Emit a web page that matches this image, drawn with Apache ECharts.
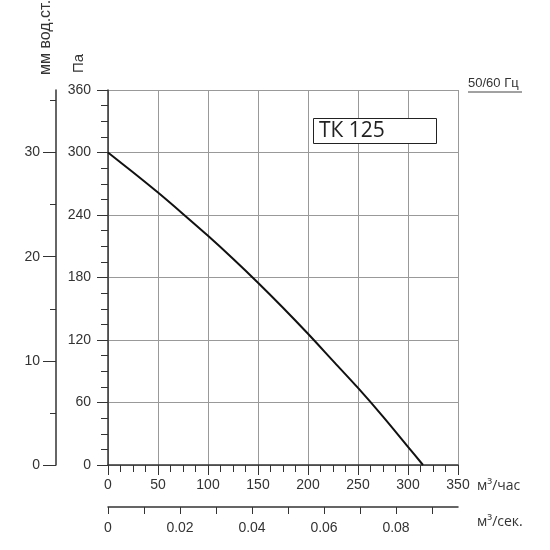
<!DOCTYPE html>
<html>
<head>
<meta charset="utf-8">
<script src="https://cdn.jsdelivr.net/npm/echarts@6/dist/echarts.min.js"></script>
<style>
    html, body { margin: 0; padding: 0; background: #fff; }
    #fanChart { width: 550px; height: 550px; }
</style>
</head>
<body>
<div id="fanChart"></div>
<script>
    // расход, м3/час
    var flow = [0, 25, 50, 75, 100, 125, 150, 175, 200, 225, 250, 275, 300, 315];
    // давление, Па
    var pressure = [300, 281, 261.5, 241, 220, 198, 175, 151, 126, 100, 74, 46.5, 17.5, 0];
    var mmTicks = [0, 10, 20, 30];
    var secTicks = [0, 0.01, 0.02, 0.03, 0.04, 0.05, 0.06, 0.07, 0.08, 0.09];
    var secLabels = [0, 0.02, 0.04, 0.06, 0.08];

    var labelFont = 'Liberation Sans';
    var axisColor = '#333';
    var gridColor = '#999';

    var chart = echarts.init(document.getElementById('fanChart'));
    var option = {
        backgroundColor: '#fff',
        animation: false,
        title: [{
            text: 'ТК 125',
            left: 313,
            top: 118,
            backgroundColor: '#fff',
            borderColor: '#222',
            borderWidth: 1,
            padding: [3, 52, 2, 6],
            textStyle: {fontFamily: 'Open Sans', fontSize: 21, fontWeight: 'normal', color: '#222'}
        }, {
            text: '50/60 Гц',
            left: 468,
            top: 77,
            padding: 0,
            textStyle: {fontFamily: labelFont, fontSize: 13, fontWeight: 'normal', color: '#333'}
        }],
        graphic: [{
            type: 'line',
            shape: {x1: 468, y1: 92, x2: 522, y2: 92},
            style: {stroke: '#444', lineWidth: 1}
        }, {
            // подписи осей
            type: 'text',
            x: 79, y: 73,
            rotation: Math.PI / 2,
            style: {text: 'Па', font: '15px "Liberation Sans"', fill: '#333', align: 'left', verticalAlign: 'middle'}
        }, {
            type: 'text',
            x: 46, y: 75,
            rotation: Math.PI / 2,
            style: {text: 'мм вод.ст.', font: '16px "Liberation Sans"', fill: '#333', align: 'left', verticalAlign: 'middle'}
        }, {
            type: 'text',
            x: 477, y: 486,
            style: {text: 'м³/час', font: '14px "Open Sans"', fill: '#333', align: 'left', verticalAlign: 'middle'}
        }, {
            type: 'text',
            x: 477, y: 522,
            style: {text: 'м³/сек.', font: '14px "Open Sans"', fill: '#333', align: 'left', verticalAlign: 'middle'}
        }],
        grid: {
            left: 108,
            right: 92,
            top: 90,
            bottom: 85,
            containLabel: false,
            outerBoundsMode: 'none'
        },
        xAxis: [{
            type: 'value',
            min: 0,
            max: 350,
            interval: 50,
            axisLine: {show: true, onZero: false, lineStyle: {color: axisColor, width: 1.5}},
            axisTick: {show: true, length: 10, lineStyle: {color: axisColor}},
            minorTick: {show: true, splitNumber: 4, length: 7, lineStyle: {color: axisColor}},
            axisLabel: {margin: 13, fontFamily: labelFont, fontSize: 14, color: '#333'},
            splitLine: {show: true, lineStyle: {color: gridColor, width: 1}}
        }, {
            type: 'value',
            position: 'bottom',
            offset: 42,
            min: 0,
            max: 350 / 3600,
            interval: 0.01,
            axisLine: {show: true, onZero: false, lineStyle: {color: axisColor, width: 1.5}},
            axisTick: {show: true, length: 7, customValues: secTicks, lineStyle: {color: axisColor}},
            axisLabel: {
                margin: 14, fontFamily: labelFont, fontSize: 14, color: '#333',
                customValues: secLabels,
                formatter: function (v) { return v === 0 ? '0' : v.toFixed(2); }
            },
            splitLine: {show: false}
        }],
        yAxis: [{
            type: 'value',
            position: 'left',
            min: 0,
            max: 360,
            interval: 60,
            axisLine: {show: true, onZero: false, lineStyle: {color: axisColor, width: 1.5}},
            axisTick: {show: true, length: 11, lineStyle: {color: axisColor}},
            minorTick: {show: true, splitNumber: 4, length: 7, lineStyle: {color: axisColor}},
            axisLabel: {margin: 17, fontFamily: labelFont, fontSize: 14, color: '#333'},
            splitLine: {show: true, lineStyle: {color: gridColor, width: 1}}
        }, {
            type: 'value',
            position: 'left',
            offset: 52,
            min: 0,
            max: 36,
            interval: 10,
            axisLine: {show: true, onZero: false, lineStyle: {color: axisColor, width: 1.5}},
            axisTick: {show: true, length: 13, customValues: mmTicks, lineStyle: {color: axisColor}},
            minorTick: {show: true, splitNumber: 2, length: 6, lineStyle: {color: axisColor}},
            axisLabel: {margin: 16, fontFamily: labelFont, fontSize: 14, color: '#333', customValues: mmTicks},
            splitLine: {show: false}
        }],
        series: [{
            type: 'line',
            xAxisIndex: 0,
            yAxisIndex: 0,
            data: flow.map(function (q, i) { return [q, pressure[i]]; }),
            showSymbol: false,
            smooth: 0.3,
            lineStyle: {color: '#111', width: 2}
        }]
    };
    chart.setOption(option);
</script>
</body>
</html>
